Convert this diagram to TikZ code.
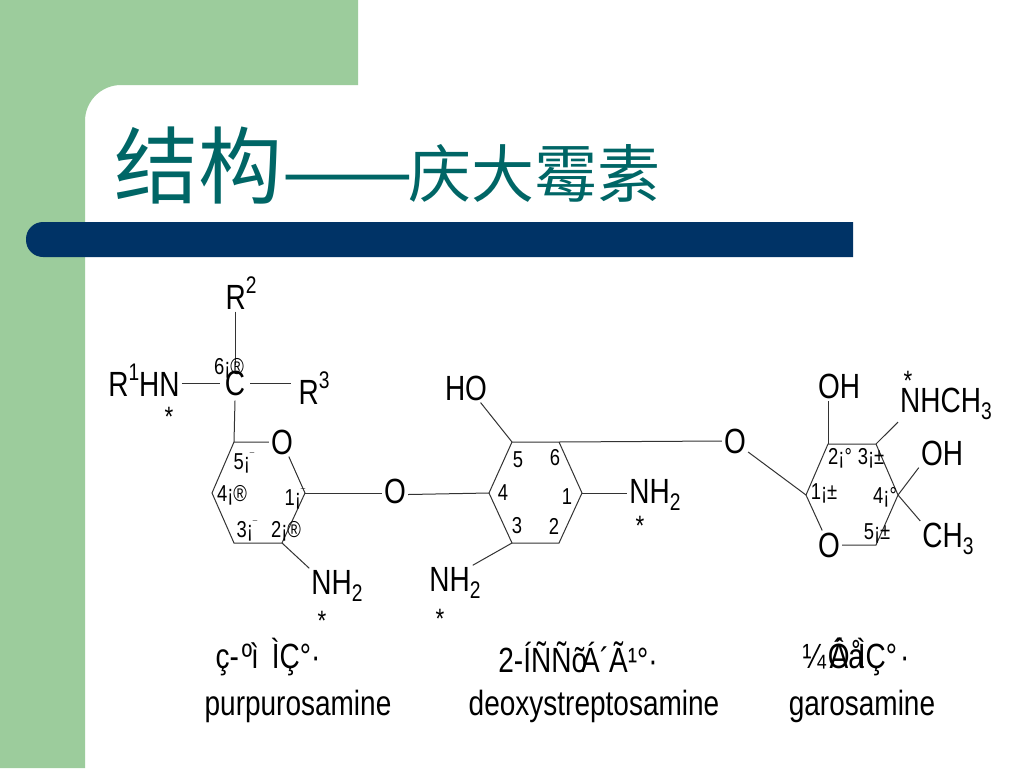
\documentclass[tikz,border=0pt]{standalone}
\usepackage{fontspec}
\setmainfont{Liberation Sans}[FakeStretch=0.8]
\newfontfamily\cjkfont{Noto Sans CJK SC}
\definecolor{slidegreen}{HTML}{9CCC9C}
\definecolor{slidenavy}{HTML}{003366}
\definecolor{slideteal}{HTML}{006666}
\newcommand{\subnum}[1]{\raisebox{-7pt}{\fontsize{24}{24}\selectfont #1}}
\newcommand{\supnum}[1]{\raisebox{16pt}{\fontsize{24}{24}\selectfont #1}}
\newcommand{\shortbar}{\raisebox{9pt}{\fontsize{10}{10}\selectfont ¯}}
\tikzset{
	atomlabel/.style={font=\fontsize{35}{35}\selectfont, inner sep=2pt},
	poslabel/.style={font=\fontsize{23}{23}\selectfont, inner sep=0pt},
	starlabel/.style={font=\fontsize{28}{28}\selectfont, inner sep=0pt},
	titlelabel/.style={slideteal, anchor=base west, inner sep=0pt},
	bondline/.style={draw=black!80, line width=1pt},
}

\begin{document}
\begin{tikzpicture}[x=1pt, y=-1pt]
		\useasboundingbox (0,0) rectangle (1024,768);
		\fill[white] (0,0) rectangle (1024,768);

		\fill[slidegreen] (0,0) -- (358,0) -- (358,85) {[rounded corners=36pt] -- (85,85) -- (85,200)} -- (85,768) -- (0,768) -- cycle;
		\fill[slidenavy] (853,222) {[rounded corners=17pt] -- (26,222) -- (26,257)} -- (853,257) -- cycle;

		\node[titlelabel] (title-main) at (114,197) {\cjkfont\fontsize{84}{84}\selectfont 结构};
		\node[titlelabel] (title-dash) at (282,199) {\cjkfont\fontsize{78}{78}\selectfont ——};
		\node[titlelabel] (title-sub) at (408,197) {\cjkfont\fontsize{63}{63}\selectfont 庆大霉素};

		\foreach \name/\x/\y in {a5/234/442, a4/212/493, a3/234/543, a2/282/543, a1/305/493,
				b5/512/442, b6/559/442, b1/582/493, b2/559/543, b3/512/543, b4/489/493,
				c1/806/495, c2/828/444, c3/876/444, c4/898/495, c5/876/545} {
				\coordinate (\name) at (\x,\y);
			}

		\node[atomlabel] (r-two) at (241,293) {R\supnum{2}};
		\node[atomlabel] (r-one) at (144,380) {R\supnum{1}HN};
		\node[atomlabel, inner sep=5pt] (c-six) at (235,383) {C};
		\node[atomlabel, inner sep=7pt] (r-three) at (314,388) {R\supnum{3}};
		\node[atomlabel] (o-ringa) at (282,442) {O};
		\node[atomlabel] (o-linka) at (395,491) {O};
		\node[atomlabel] (nh-a) at (337,586) {NH\subnum{2}};
		\node[atomlabel] (ho-b) at (466,388) {HO};
		\node[atomlabel] (nh-bone) at (655,495) {NH\subnum{2}};
		\node[atomlabel] (nh-bthree) at (455,583) {NH\subnum{2}};
		\node[atomlabel] (o-linkb) at (735,441) {O};
		\node[atomlabel] (oh-ctwo) at (839,386) {OH};
		\node[atomlabel] (nh-cthree) at (946,404) {NHCH\subnum{3}};
		\node[atomlabel] (oh-cfour) at (942,453) {OH};
		\node[atomlabel] (ch-cfour) at (948,539) {CH\subnum{3}};
		\node[atomlabel] (o-ringc) at (829,545) {O};

		\draw[bondline] (r-two.south -| c-six) -- (c-six.north);
		\draw[bondline] (r-one.east |- c-six) -- (c-six.west);
		\draw[bondline] (c-six.east) -- (c-six.east -| r-three.west);
		\draw[bondline] (c-six.south) -- (a5);
		\draw[bondline] (o-ringa.west) -- (a5) -- (a4) -- (a3) -- (a2) -- (a1) -- (o-ringa.-65);
		\draw[bondline] (a1) -- (a1 -| o-linka.west);
		\draw[bondline] (a2) -- (nh-a.north west);
		\draw[bondline] (o-linka.-15) -- (b4);
		\draw[bondline] (b5) -- (b6) -- (b1) -- (b2) -- (b3) -- (b4) -- (b5);
		\draw[bondline] (b5) -- (ho-b.-45);
		\draw[bondline] (b1) -- (nh-bone.west |- b1);
		\draw[bondline] (b3) -- (nh-bthree.45);
		\draw[bondline] (b6) -- (o-linkb.west);
		\draw[bondline] (o-linkb.-40) -- (c1);
		\draw[bondline] (o-ringc.115) -- (c1) -- (c2) -- (c3) -- (c4) -- (c5) -- (o-ringc.east |- c5);
		\draw[bondline] (c2) -- (oh-ctwo.south -| c2);
		\draw[bondline] (c3) -- (nh-cthree.south west);
		\draw[bondline] (c4) -- (oh-cfour.south west);
		\draw[bondline] (c4) -- (ch-cfour.north west);

		\foreach \x/\y/\txt [count=\i] in {229/368/6¡®, 244/463/5¡\shortbar, 232/495/4¡®, 295/499/1¡\shortbar, 247/531/3¡\shortbar, 286/531/2¡®,
				518/460/5, 555/458/6, 503/493/4, 567/497/1, 517/526/3, 554/526/2,
				840/458/2¡°, 871/458/3¡±, 824/493/1¡±, 885/497/4¡°, 877/533/5¡±} {
				\node[poslabel] (pos-\i) at (\x,\y) {\txt};
			}

		\foreach \x/\y [count=\i] in {169/417, 322/621, 440/619, 640/526, 908/381} {
				\node[starlabel] (star-\i) at (\x,\y) {*};
			}

		\node[atomlabel] (name-a) at (268,657) {ç-\kern3pt º\kern-1pt ì\kern13pt ÌÇ°·};
		\node[atomlabel] (name-b) at (578,657) {2-ÍÑÑõ\kern-6pt Á´Ã¹°·};
		\node[atomlabel] (name-c) at (856,657) {¼\kern2pt Ó\kern-20pt Âå\kern-6pt ÌÇ°\kern3pt ·};
		\node[atomlabel] (eng-a) at (298,706) {purpurosamine};
		\node[atomlabel] (eng-b) at (594,706) {deoxystreptosamine};
		\node[atomlabel] (eng-c) at (862,706) {garosamine};
	\end{tikzpicture}
\end{document}
